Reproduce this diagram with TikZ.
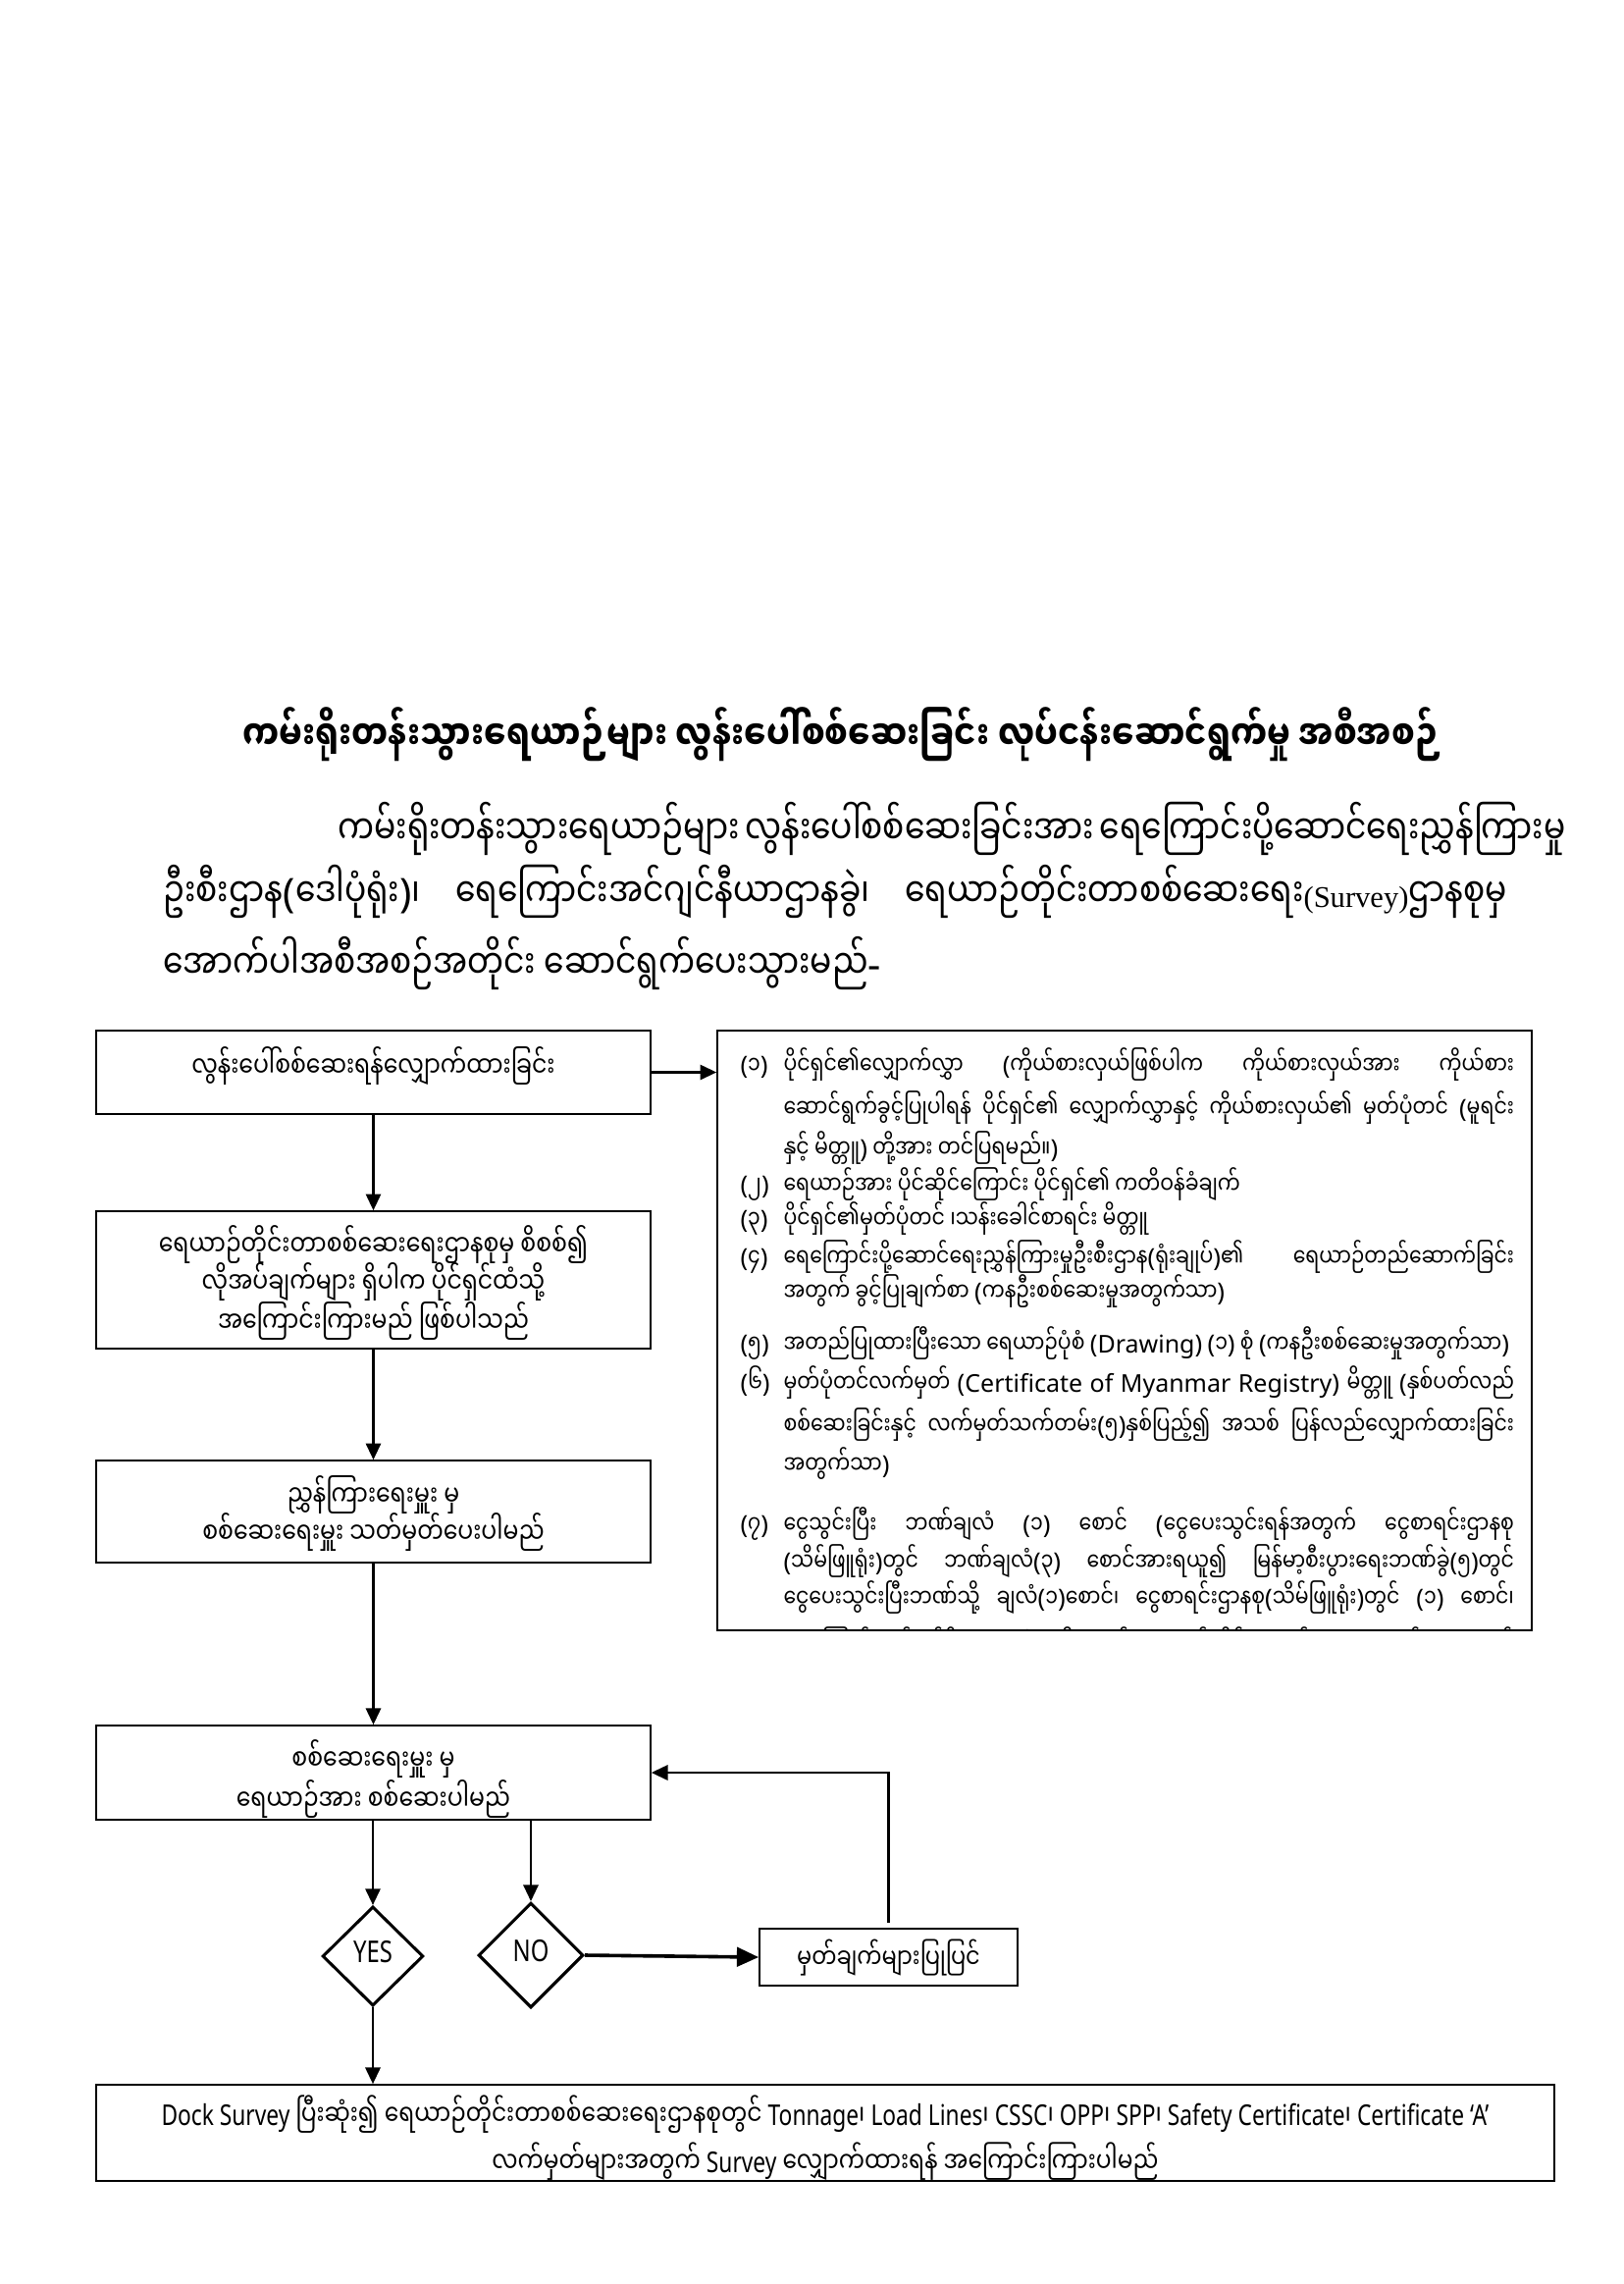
\documentclass[tikz,border=0pt]{standalone}
\usepackage{fontspec}
\setmainfont[Script=Myanmar,FakeStretch=0.8]{Noto Sans Myanmar UI}
\newfontfamily\mm[Script=Myanmar,FakeStretch=0.8]{Noto Sans Myanmar UI}
\newfontfamily\lat{Noto Sans}
\newfontfamily\latcf[FakeStretch=0.78]{Noto Sans}
\newfontfamily\tnrf{Liberation Serif}
\newcommand\LAT{\XeTeXinterchartokenstate=0 \lat}
\newcommand\LATC{\XeTeXinterchartokenstate=0 \latcf}
\newcommand\TNR{\XeTeXinterchartokenstate=0 \tnrf}
\newXeTeXintercharclass\punctclass
\XeTeXcharclass`(=\punctclass
\XeTeXcharclass`)=\punctclass
\XeTeXcharclass`-=\punctclass
\XeTeXinterchartoks 0 \punctclass = {\lat}
\XeTeXinterchartoks 4095 \punctclass = {\lat}
\XeTeXinterchartoks \punctclass 0 = {\mm}
\XeTeXinterchartoks \punctclass 4095 = {\mm}
\XeTeXinterchartokenstate=1
\usetikzlibrary{arrows.meta,shapes.geometric}
\newcommand\jl[2]{\makebox[#1][s]{#2}}
\newcommand\tlat[1]{{\LAT\fontsize{9}{12}\selectfont #1}}
\tikzset{
  box/.style={draw, line width=0.6pt, inner sep=0pt},
  dia/.style={draw, diamond, line width=1.1pt, inner sep=0pt, aspect=1},
  conn/.style={line width=0.8pt, -{Triangle[length=6pt,width=5.5pt]}},
  tl/.style={anchor=base, inner sep=0pt, font=\fontsize{10.6}{13}\selectfont},
  tbl/.style={anchor=base west, inner sep=0pt, font=\fontsize{9.2}{12}\selectfont},
  pl/.style={anchor=base west, inner sep=0pt, font=\fontsize{14.8}{16}\selectfont},
}
\begin{document}
\begin{tikzpicture}[x=0.36pt,y=-0.36pt]
\useasboundingbox[fill=white] (0,0) rectangle (1654,2327);
% title and paragraph
\node[anchor=base, inner sep=0pt, font=\fontsize{15}{17}\selectfont\bfseries] (title) at (858,764) {ကမ်းရိုးတန်းသွားရေယာဉ်များ လွန်းပေါ်စစ်ဆေးခြင်း လုပ်ငန်းဆောင်ရွက်မှု အစီအစဉ်};
\node[pl] (p1) at (344,860) {\jl{428.8pt}{ကမ်းရိုးတန်းသွားရေယာဉ်များ လွန်းပေါ်စစ်ဆေးခြင်းအား ရေကြောင်းပို့ဆောင်ရေးညွှန်ကြားမှု}};
\node[pl] (p2) at (166,924) {\jl{492.8pt}{ဦးစီးဌာန(ဒေါပုံရုံး)၊ ရေကြောင်းအင်ဂျင်နီယာဌာနခွဲ၊ ရေယာဉ်တိုင်းတာစစ်ဆေးရေး{\TNR\fontsize{11}{13}\selectfont(Survey)}ဌာနစုမှ}};
\node[pl] (p3) at (166,997) {အောက်ပါအစီအစဉ်အတိုင်း ဆောင်ရွက်ပေးသွားမည်-};
% boxes
\node[box, minimum width=203.4pt, minimum height=30.6pt] (b1) at (380.5,1092.5) {};
\node[box, minimum width=203.4pt, minimum height=50.4pt] (b2) at (380.5,1304) {};
\node[box, minimum width=203.4pt, minimum height=37.4pt] (b3) at (380.5,1540) {};
\node[box, minimum width=203.4pt, minimum height=34.6pt] (b4) at (380.5,1806) {};
\node[box, minimum width=298.8pt, minimum height=220pt] (tb) at (1146,1355.5) {};
\node[box, minimum width=94.7pt, minimum height=20.9pt] (fix) at (905.5,1994) {};
\node[box, minimum width=535pt, minimum height=35.3pt] (bot) at (841,2173) {};
\node[dia, minimum width=37pt, minimum height=36.4pt] (yes) at (380,1993) {};
\node[dia, minimum width=38.5pt, minimum height=38.5pt] (no) at (541,1992) {};
% box texts
\node[tl] (t1) at (380.5,1097) {လွန်းပေါ်စစ်ဆေးရန်လျှောက်ထားခြင်း};
\node[tl] (t2a) at (380.5,1279) {ရေယာဉ်တိုင်းတာစစ်ဆေးရေးဌာနစုမှ စိစစ်၍};
\node[tl] (t2b) at (380.5,1317) {လိုအပ်ချက်များ ရှိပါက ပိုင်ရှင်ထံသို့};
\node[tl] (t2c) at (380.5,1357) {အကြောင်းကြားမည် ဖြစ်ပါသည်};
\node[tl] (t3a) at (380.5,1534) {ညွှန်ကြားရေးမှူး မှ};
\node[tl] (t3b) at (380.5,1572) {စစ်ဆေးရေးမှူး သတ်မှတ်ပေးပါမည်};
\node[tl] (t4a) at (380.5,1803) {စစ်ဆေးရေးမှူး မှ};
\node[tl] (t4b) at (380.5,1844) {ရေယာဉ်အား စစ်ဆေးပါမည်};
\node[tl, font=\fontsize{10.1}{12}\selectfont] (tf) at (905.5,2005) {မှတ်ချက်များပြုပြင်};
\node[tl, font=\fontsize{11}{13}\selectfont\LATC] (ty) at (380,1999) {YES};
\node[tl, font=\fontsize{11}{13}\selectfont\LATC] (tn) at (541,1998) {NO};
\node[tl, font=\fontsize{10.5}{13}\selectfont] (tb1) at (841,2165) {{\LATC Dock Survey} ပြီးဆုံး၍ ရေယာဉ်တိုင်းတာစစ်ဆေးရေးဌာနစုတွင် {\LATC Tonnage}၊ {\LATC Load Lines}၊ {\LATC CSSC}၊ {\LATC OPP}၊ {\LATC SPP}၊ {\LATC Safety Certificate}၊ {\LATC Certificate ‘A’}};
\node[tl, font=\fontsize{10.5}{13}\selectfont] (tb2) at (841,2213) {လက်မှတ်များအတွက် {\LATC Survey} လျှောက်ထားရန် အကြောင်းကြားပါမည်};
% text box content
\begin{scope}
\clip (tb.north west) rectangle (tb.south east);
\node[tbl] (n1) at (754,1094) {(၁)};
\node[tbl] (l1) at (798,1094) {\jl{268pt}{ပိုင်ရှင်၏လျှောက်လွှာ (ကိုယ်စားလှယ်ဖြစ်ပါက ကိုယ်စားလှယ်အား ကိုယ်စား}};
\node[tbl] (l2) at (798,1138) {\jl{268pt}{ဆောင်ရွက်ခွင့်ပြုပါရန် ပိုင်ရှင်၏ လျှောက်လွှာနှင့် ကိုယ်စားလှယ်၏ မှတ်ပုံတင် (မူရင်း}};
\node[tbl] (l3) at (798,1179) {နှင့် မိတ္တူ) တို့အား တင်ပြရမည်။)};
\node[tbl] (n2) at (754,1216) {(၂)};
\node[tbl] (l4) at (798,1216) {ရေယာဉ်အား ပိုင်ဆိုင်ကြောင်း ပိုင်ရှင်၏ ကတိဝန်ခံချက်};
\node[tbl] (n3) at (754,1251) {(၃)};
\node[tbl] (l5) at (798,1251) {ပိုင်ရှင်၏မှတ်ပုံတင် ၊သန်းခေါင်စာရင်း မိတ္တူ};
\node[tbl] (n4) at (754,1290) {(၄)};
\node[tbl] (l6) at (798,1290) {\jl{268pt}{ရေကြောင်းပို့ဆောင်ရေးညွှန်ကြားမှုဦးစီးဌာန(ရုံးချုပ်)၏ ရေယာဉ်တည်ဆောက်ခြင်း}};
\node[tbl] (l7) at (798,1325) {အတွက် ခွင့်ပြုချက်စာ (ကနဦးစစ်ဆေးမှုအတွက်သာ)};
\node[tbl] (n5) at (754,1378) {(၅)};
\node[tbl] (l8) at (798,1378) {အတည်ပြုထားပြီးသော ရေယာဉ်ပုံစံ (\tlat{Drawing}) (၁) စုံ (ကနဦးစစ်ဆေးမှုအတွက်သာ)};
\node[tbl] (n6) at (754,1418) {(၆)};
\node[tbl] (l9) at (798,1418) {\jl{268pt}{မှတ်ပုံတင်လက်မှတ် (\tlat{Certificate} \tlat{of} \tlat{Myanmar} \tlat{Registry}) မိတ္တူ (နှစ်ပတ်လည်}};
\node[tbl] (l10) at (798,1461) {\jl{268pt}{စစ်ဆေးခြင်းနှင့် လက်မှတ်သက်တမ်း(၅)နှစ်ပြည့်၍ အသစ် ပြန်လည်လျှောက်ထားခြင်း}};
\node[tbl] (l11) at (798,1501) {အတွက်သာ)};
\node[tbl] (n7) at (754,1562) {(၇)};
\node[tbl] (l12) at (798,1562) {\jl{268pt}{ငွေသွင်းပြီး ဘဏ်ချလံ (၁) စောင် (ငွေပေးသွင်းရန်အတွက် ငွေစာရင်းဌာနစု}};
\node[tbl] (l13) at (798,1600) {\jl{268pt}{(သိမ်ဖြူရုံး)တွင် ဘဏ်ချလံ(၃) စောင်အားရယူ၍ မြန်မာ့စီးပွားရေးဘဏ်ခွဲ(၅)တွင်}};
\node[tbl] (l14) at (798,1637) {\jl{268pt}{ငွေပေးသွင်းပြီးဘဏ်သို့ ချလံ(၁)စောင်၊ ငွေစာရင်းဌာနစု(သိမ်ဖြူရုံး)တွင် (၁) စောင်၊}};
\node[tbl] (l15) at (798,1684) {\jl{268pt}{ရေကြောင်းအင်ဂျင်နီယာဌာနခွဲ(ဒေါပုံ)တွင် ရေယာဉ်တိုင်းတာစစ်ဆေးရေးတွင် (၁) စောင်}};
\end{scope}
% connectors
\draw[conn] (b1.east) -- (b1.east -| tb.west);
\draw[conn] (b1.south) -- (b2.north);
\draw[conn] (b2.south) -- (b3.north);
\draw[conn] (b3.south) -- (b4.north);
\draw[conn] (yes.north |- b4.south) -- (yes.north);
\draw[conn] (no.north |- b4.south) -- (no.north);
\draw[conn, line width=1.3pt, -{Triangle[length=8pt,width=7pt]}] (no.east) -- (fix.west);
\draw[conn] ([yshift=2pt]fix.north) |- (b4.east);
\draw[conn] (yes.south) -- (bot.north -| yes.south);
\end{tikzpicture}
\end{document}
